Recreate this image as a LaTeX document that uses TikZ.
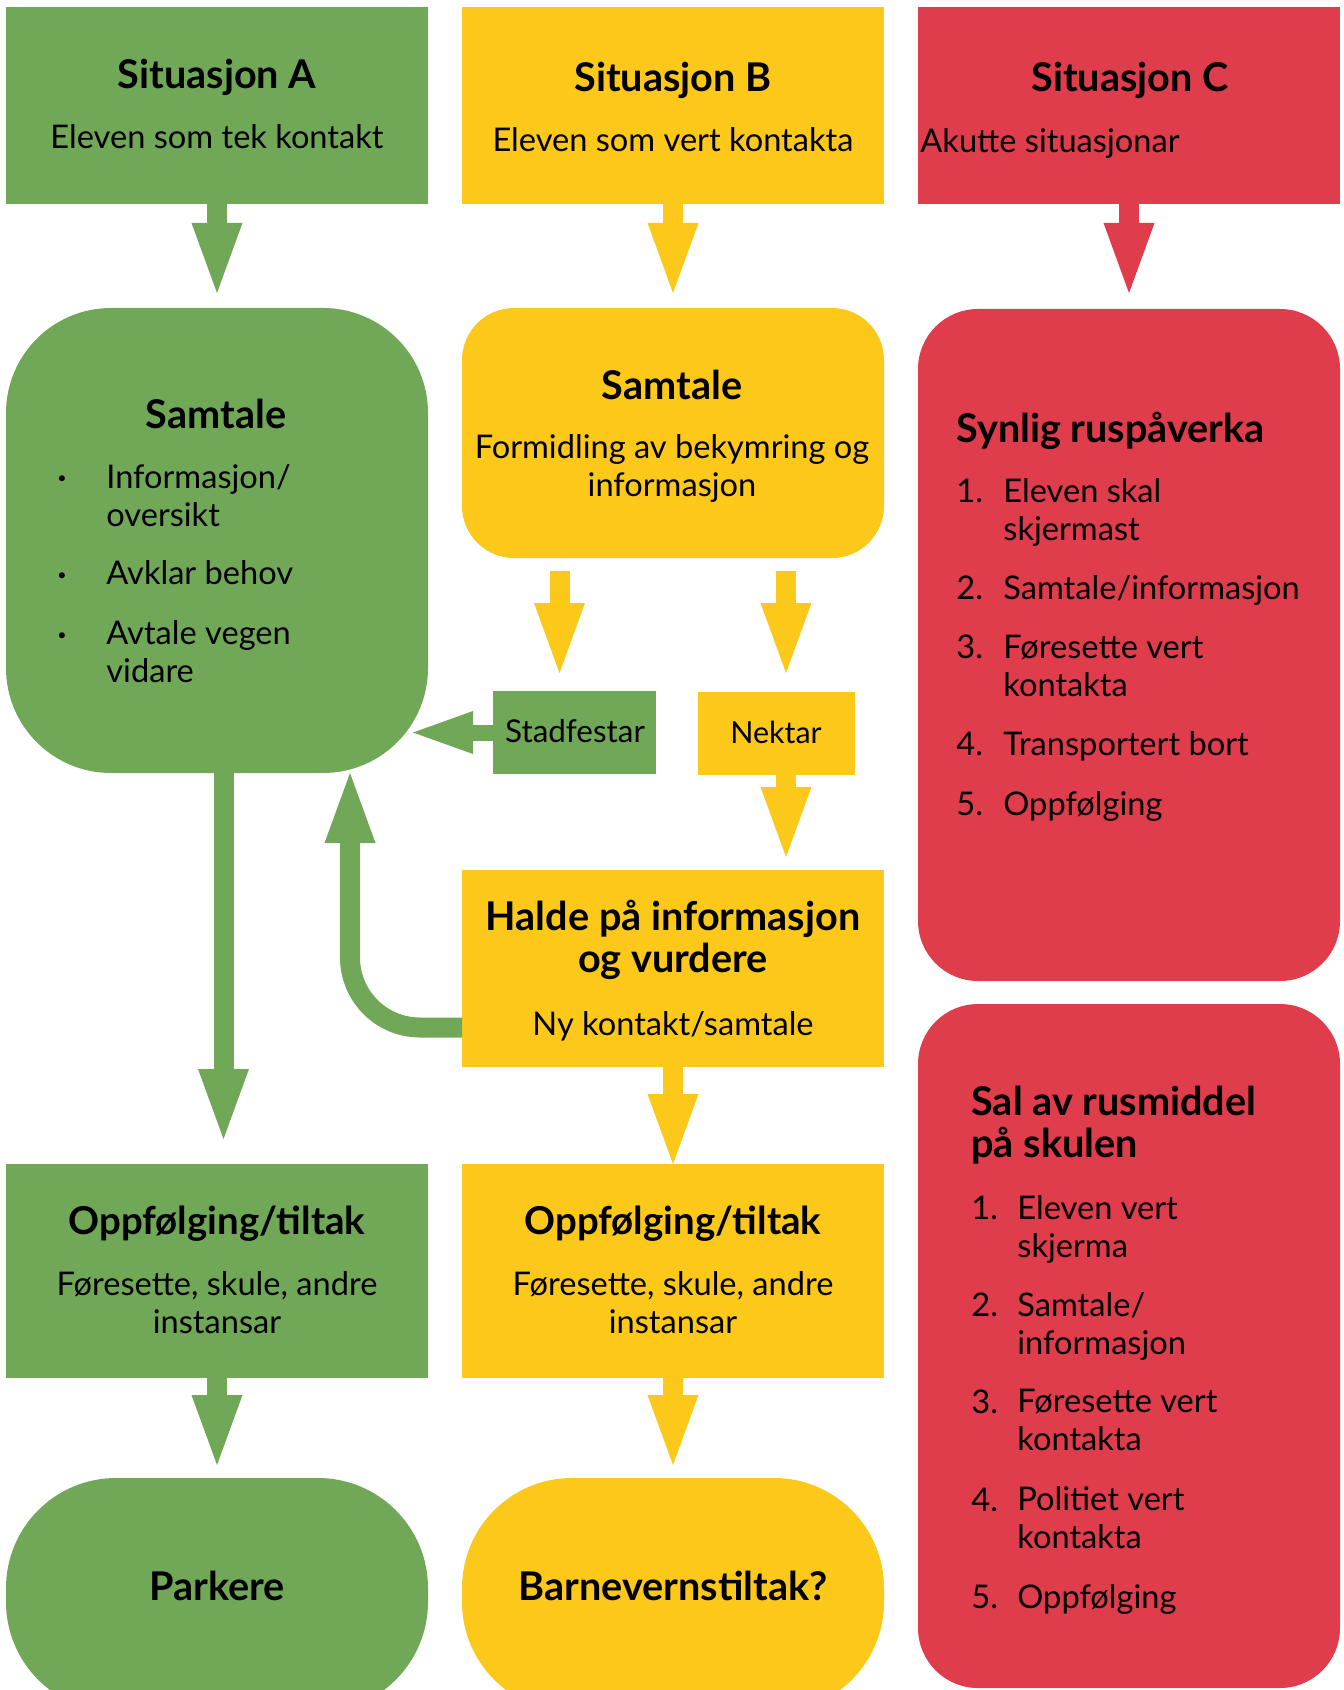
\documentclass[tikz,border=0pt]{standalone}
\usepackage{fontspec}
\setmainfont{Lato}
\usetikzlibrary{arrows.meta}
\definecolor{agreen}{HTML}{71A858}
\definecolor{byellow}{HTML}{FCC81A}
\definecolor{cred}{HTML}{DF3C4C}
\tikzset{
  box/.style={inner sep=0pt, outer sep=0pt, minimum width=211pt},
  lbl/.style={inner sep=0pt, anchor=base},
  ttl/.style={lbl, font=\fontsize{19.8}{21}\selectfont\bfseries},
  txt/.style={lbl, font=\fontsize{16.3}{19}\selectfont},
  num/.style={txt, anchor=base west},
  dot/.style={lbl, font=\fontsize{8}{8}\selectfont},
  flow/.style={line width=10pt, -{Triangle[width=25.5pt, length=35pt, line width=0pt]}},
  smallflow/.style={line width=8pt, -{Triangle[width=21.5pt, length=30pt, line width=0pt]}},
}
\begin{document}
\begin{tikzpicture}[x=0.5pt, y=-0.5pt]
  \useasboundingbox (0,0) rectangle (1343,1690);
  \clip (0,0) rectangle (1343,1690);

  % Column A
  \node[box, fill=agreen, minimum height=98.5pt] (sitA) at (217,105.5) {};
  \node[box, fill=agreen, minimum height=232.5pt, rounded corners=52.5pt] (samA) at (217,540.5) {};
  \node[box, fill=agreen, minimum height=107pt] (oppA) at (217,1271) {};
  \node[box, fill=agreen, minimum height=117pt, rounded corners=55pt] (park) at (217,1595) {};

  % Column B
  \node[box, fill=byellow, minimum height=98.5pt] (sitB) at (673,105.5) {};
  \node[box, fill=byellow, minimum height=125pt, rounded corners=26pt] (samB) at (673,433) {};
  \node[box, fill=agreen, minimum width=81.5pt, minimum height=41.5pt] (stad) at (574.5,732.5) {};
  \node[box, fill=byellow, minimum width=78.5pt, minimum height=41.5pt] (nek) at (776.5,733.5) {};
  \node[box, fill=byellow, minimum height=98.5pt] (halde) at (673,968.5) {};
  \node[box, fill=byellow, minimum height=107pt] (oppB) at (673,1271) {};
  \node[box, fill=byellow, minimum height=117pt, rounded corners=55pt] (barn) at (673,1595) {};

  % Column C
  \node[box, fill=cred, minimum height=98.5pt] (sitC) at (1129,105.5) {};
  \node[box, fill=cred, minimum height=336pt, rounded corners=30pt] (synC) at (1129,645) {};
  \node[box, fill=cred, minimum height=342pt, rounded corners=30pt] (salC) at (1129,1346) {};

  % Texts A
  \node[ttl] (tA1) at (217,89) {Situasjon A};
  \node[txt] (tA2) at (217,149) {Eleven som tek kontakt};
  \node[ttl] (tA3) at (216,428) {Samtale};
  \node[dot] (bA1) at (62,483) {•};
  \node[dot] (bA2) at (62,580) {•};
  \node[dot] (bA3) at (62,640) {•};
  \node[num, align=left] (iA1) at (106,526) {Informasjon/\\oversikt};
  \node[num] (iA2) at (106,584) {Avklar behov};
  \node[num, align=left] (iA3) at (106,682) {Avtale vegen\\vidare};
  \node[ttl, font=\fontsize{19.2}{21}\selectfont\bfseries] (tA4) at (217,1234) {Oppfølging/tiltak};
  \node[txt, align=center] (tA5) at (217,1333) {Føresette, skule, andre\\instansar};
  \node[ttl] (tA6) at (217,1600) {Parkere};

  % Texts B
  \node[ttl] (tB1) at (673,92) {Situasjon B};
  \node[txt] (tB2) at (673,152) {Eleven som vert kontakta};
  \node[ttl] (tB3) at (672,399) {Samtale};
  \node[txt, align=center] (tB4) at (672,496) {Formidling av bekymring og\\informasjon};
  \node[txt, font=\fontsize{15.7}{18}\selectfont] (tB5) at (575,742) {Stadfestar};
  \node[txt, font=\fontsize{15.2}{18}\selectfont] (tB6) at (776,743) {Nektar};
  \node[ttl, align=center] (tB7) at (673,972) {Halde på informasjon\\og vurdere};
  \node[txt] (tB8) at (673,1035) {Ny kontakt/samtale};
  \node[ttl, font=\fontsize{19.2}{21}\selectfont\bfseries] (tB9) at (673,1234) {Oppfølging/tiltak};
  \node[txt, align=center] (tB10) at (673,1333) {Føresette, skule, andre\\instansar};
  \node[ttl] (tB11) at (673,1600) {Barnevernstiltak?};

  % Texts C
  \node[ttl] (tC1) at (1130,92) {Situasjon C};
  \node[num] (tC2) at (920,153) {Akutte situasjonar};
  \node[ttl, anchor=base west] (tC3) at (956,442) {Synlig ruspåverka};
  \node[num] (nC1) at (956,502) {1.};
  \node[num] (nC2) at (956,599) {2.};
  \node[num] (nC3) at (956,658) {3.};
  \node[num] (nC4) at (956,755) {4.};
  \node[num] (nC5) at (956,815) {5.};
  \node[num, align=left] (iC1) at (1003,540) {Eleven skal\\skjermast};
  \node[num] (iC2) at (1003,599) {Samtale/informasjon};
  \node[num, align=left] (iC3) at (1003,696) {Føresette vert\\kontakta};
  \node[num] (iC4) at (1003,755) {Transportert bort};
  \node[num] (iC5) at (1003,815) {Oppfølging};
  \node[ttl, anchor=base west, align=left] (tC4) at (971,1157) {Sal av rusmiddel\\på skulen};
  \node[num] (mC1) at (971,1219) {1.};
  \node[num] (mC2) at (971,1316) {2.};
  \node[num] (mC3) at (971,1413) {3.};
  \node[num] (mC4) at (971,1511) {4.};
  \node[num] (mC5) at (971,1608) {5.};
  \node[num, align=left] (jC1) at (1017,1257) {Eleven vert\\skjerma};
  \node[num, align=left] (jC2) at (1017,1354) {Samtale/\\informasjon};
  \node[num, align=left] (jC3) at (1017,1450) {Føresette vert\\kontakta};
  \node[num, align=left] (jC4) at (1017,1548) {Politiet vert\\kontakta};
  \node[num] (jC5) at (1017,1608) {Oppfølging};

  % Arrows
  \draw[flow, agreen, shorten >=7.5pt] (sitA.south) -- (samA.north);
  \draw[flow, byellow, shorten >=7.5pt] (sitB.south) -- (samB.north);
  \draw[flow, cred, shorten >=8pt] (sitC.south) -- (synC.north);
  \draw[flow, agreen, shorten >=12.5pt] ([xshift=3.25pt]samA.south) -- ([xshift=3.25pt]oppA.north);
  \draw[flow, byellow, shorten <=6.5pt, shorten >=9pt] ([xshift=-7.5pt]stad.north |- samB.south) -- ([xshift=-7.5pt]stad.north);
  \draw[flow, byellow, shorten <=6.5pt, shorten >=9.5pt] ([xshift=4.75pt]nek.north |- samB.south) -- ([xshift=4.75pt]nek.north);
  \draw[flow, byellow, shorten >=6.5pt] ([xshift=4.75pt]nek.south) -- ([xshift=4.75pt]nek.south |- halde.north);
  \draw[smallflow, agreen] (stad.west) -- ([xshift=-7.5pt]stad.west -| samA.east);
  \draw[flow, byellow] (halde.south) -- (oppB.north);
  \draw[flow, agreen, shorten >=6.5pt] (oppA.south) -- (park.north);
  \draw[flow, byellow, shorten >=6.5pt] (oppB.south) -- (barn.north);
  \coordinate (bend) at (350,1027.5);
  \draw[flow, agreen, rounded corners=35pt] ([yshift=-29.5pt]halde.west) -- (bend) -- (bend |- samA.south);
\end{tikzpicture}
\end{document}
